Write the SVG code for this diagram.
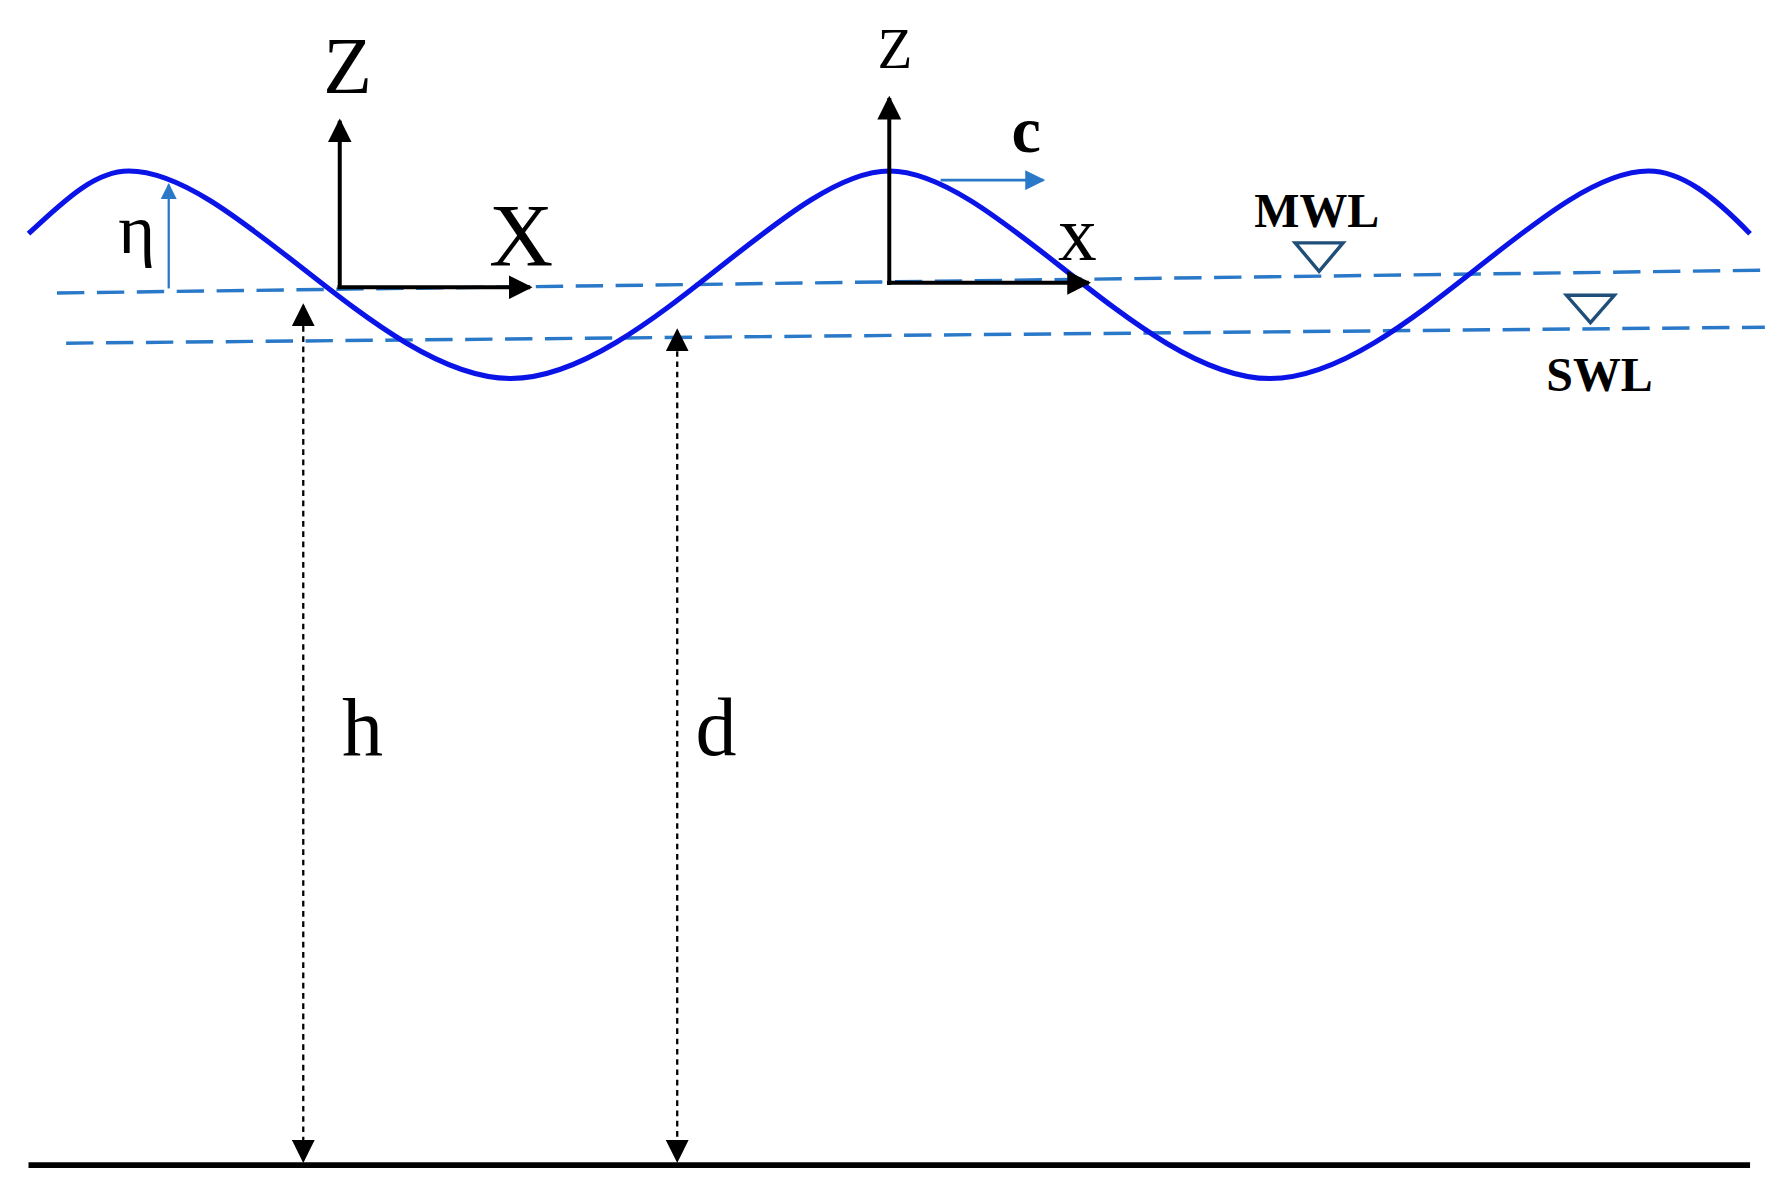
<svg xmlns="http://www.w3.org/2000/svg" width="1782" height="1197" viewBox="0 0 1782 1197">
<style>
.t{font-family:"Liberation Serif",serif;fill:#000}
.b{font-weight:bold}
.dash{stroke:#2a78c8;stroke-width:3;stroke-dasharray:24 11;fill:none}
.ax{stroke:#000;stroke-width:3.5;fill:none}
.dot{stroke:#000;stroke-width:2;stroke-dasharray:5 4;fill:none}
.tri{stroke:#1f4e79;stroke-width:3;fill:none}
</style>
<defs>
<marker id="ak" viewBox="0 0 10 10" refX="9" refY="5" markerWidth="6" markerHeight="6" orient="auto-start-reverse" markerUnits="strokeWidth"><path d="M0,0 L10,5 L0,10 z" fill="#000"/></marker>
<marker id="ad" viewBox="0 0 10 10" refX="9" refY="5" markerWidth="10" markerHeight="10" orient="auto-start-reverse" markerUnits="strokeWidth"><path d="M0,0 L10,5 L0,10 z" fill="#000"/></marker>
<marker id="ab" viewBox="0 0 10 10" refX="9" refY="5" markerWidth="7" markerHeight="7" orient="auto" markerUnits="strokeWidth"><path d="M0,0 L10,5 L0,10 z" fill="#2a78c8"/></marker>
</defs>
<rect width="1782" height="1197" fill="#fff"/>
<g transform="scale(1.1401)">
<g id="levels">
<line class="dash" x1="50" y1="257" x2="1545" y2="237"/>
<line class="dash" x1="58" y1="301" x2="1548" y2="287"/>
</g>
<g id="wave">
<path d="M25,205 C60,172 85,150 113,150 C205,150 335,332 448,332 C561,332 691,150 780,150 C872,150 1002,332 1114,332 C1226,332 1356,150 1446,150 C1475,150 1503,172 1535,205" stroke="#0a14e6" stroke-width="4.5" fill="none"/>
</g>
<g id="connectors">
<line class="ax" x1="298" y1="252" x2="298" y2="106" marker-end="url(#ak)"/>
<line class="ax" x1="296" y1="252" x2="465" y2="252" marker-end="url(#ak)"/>
<line class="ax" x1="780" y1="250" x2="780" y2="86" marker-end="url(#ak)"/>
<line class="ax" x1="778" y1="248" x2="955" y2="248" marker-end="url(#ak)"/>
<line x1="825" y1="158" x2="915" y2="158" stroke="#2a78c8" stroke-width="2.5" marker-end="url(#ab)"/>
<line x1="148" y1="253" x2="148" y2="162" stroke="#2a78c8" stroke-width="2" marker-end="url(#ab)"/>
<line class="dot" x1="266" y1="268" x2="266" y2="1018" marker-start="url(#ad)" marker-end="url(#ad)"/>
<line class="dot" x1="594" y1="290" x2="594" y2="1018" marker-start="url(#ad)" marker-end="url(#ad)"/>
<line x1="25" y1="1022" x2="1535" y2="1022" stroke="#000" stroke-width="5"/>
</g>
<g id="labels">
<text class="t" x="305" y="82" font-size="70" text-anchor="middle">Z</text>
<text class="t" x="457" y="232" font-size="78" text-anchor="middle">X</text>
<text class="t" x="785" y="60" font-size="50" text-anchor="middle">Z</text>
<text class="t" x="945" y="228" font-size="68" text-anchor="middle">x</text>
<text class="t b" x="900" y="133" font-size="58" text-anchor="middle">c</text>
<text class="t" x="120" y="222" font-size="62" text-anchor="middle">η</text>
<text class="t" x="318" y="662" font-size="72" text-anchor="middle">h</text>
<text class="t" x="628" y="662" font-size="72" text-anchor="middle">d</text>
<text class="t b" x="1155" y="199" font-size="42" text-anchor="middle">MWL</text>
<text class="t b" x="1403" y="343" font-size="42" text-anchor="middle">SWL</text>
</g>
<g id="markers">
<path class="tri" d="M1136,213 L1178,213 L1157,238 Z"/>
<path class="tri" d="M1374,259 L1416,259 L1395,283 Z"/>
</g>
</g>
</svg>
